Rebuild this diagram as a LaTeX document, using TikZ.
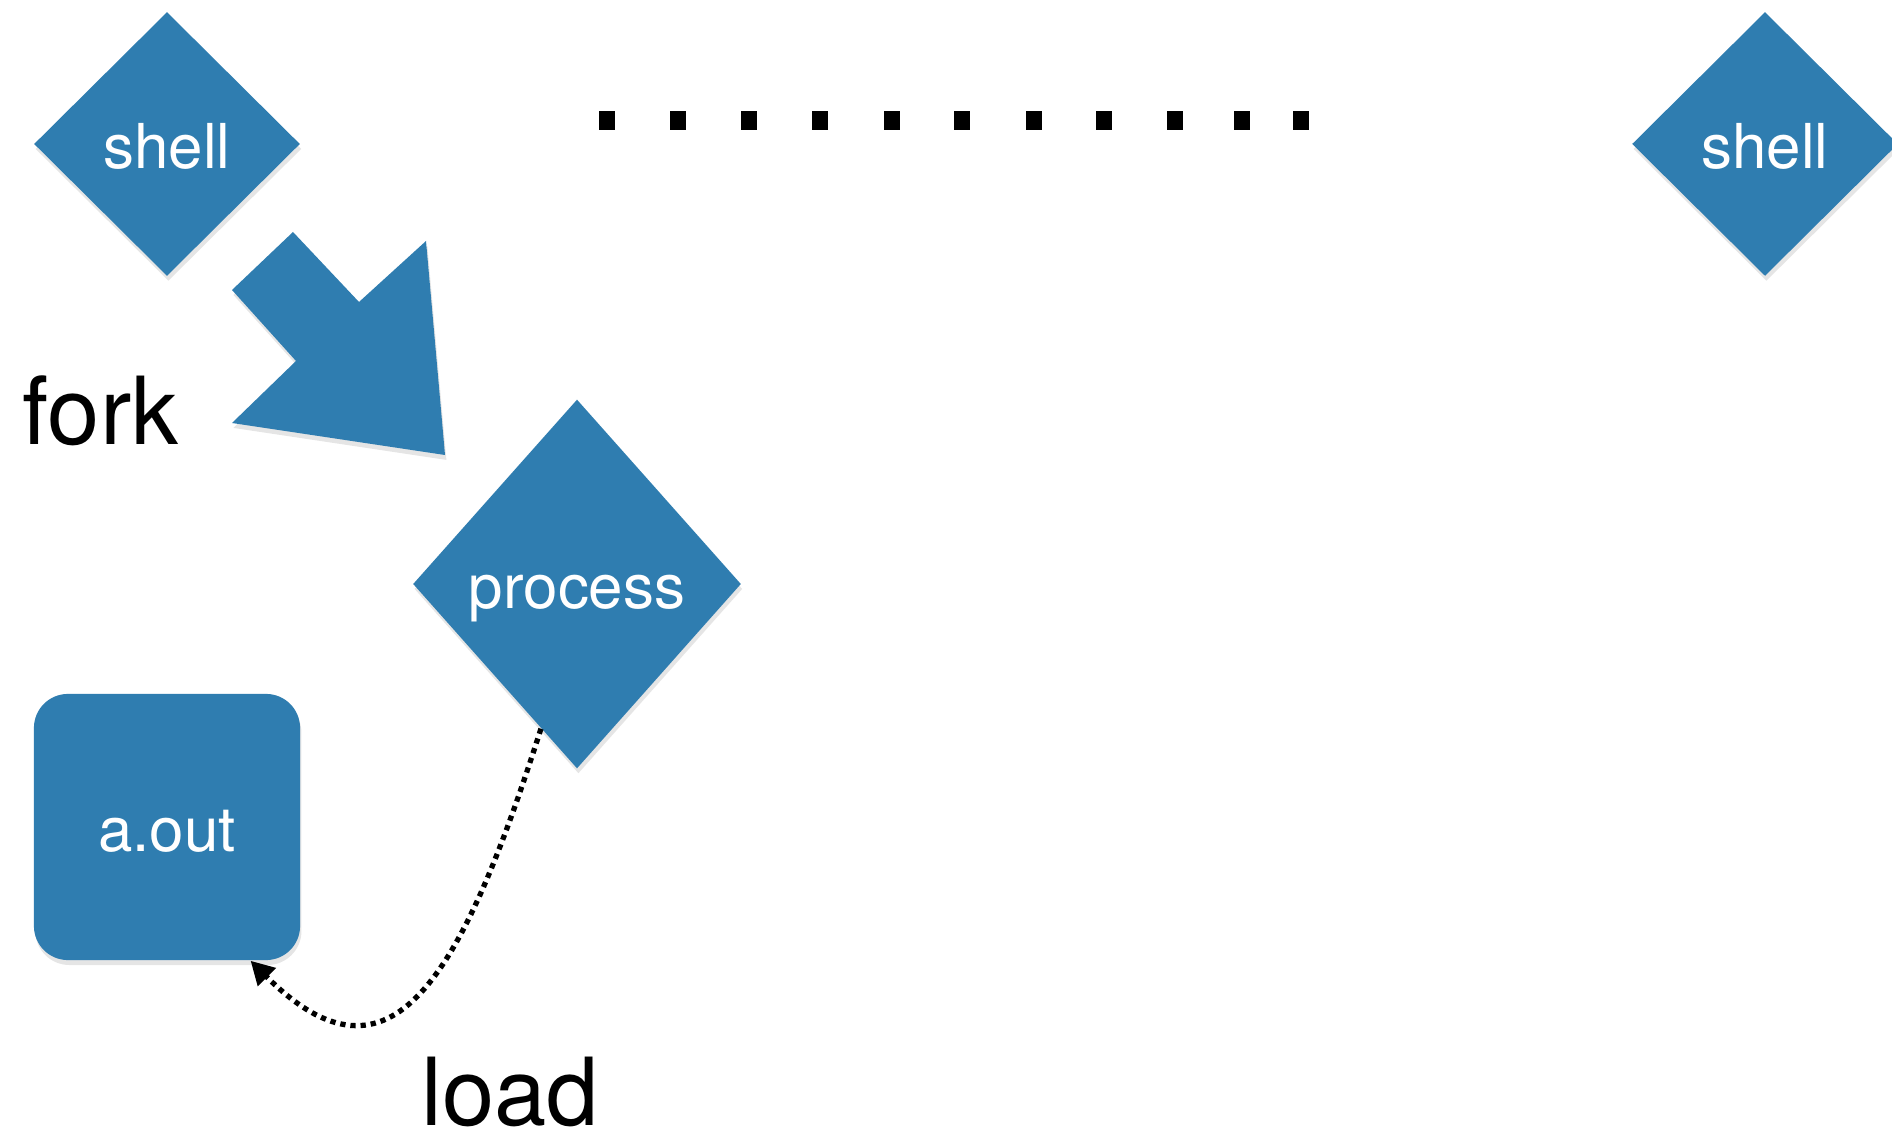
\documentclass[tikz,border=0pt]{standalone}
\usepackage{fontspec}
\setmainfont{TeX Gyre Heros}
\usetikzlibrary{positioning,arrows.meta,shapes.geometric,shadows}
\definecolor{keyblue}{RGB}{47,125,176}

\begin{document}
\begin{tikzpicture}[
    x=0.01cm, y=-0.01cm,
    soft/.style={drop shadow={opacity=0.2, shadow xshift=0.4pt, shadow yshift=-1.4pt}},
    diam/.style={diamond, fill=keyblue, soft, inner sep=0pt, text=white,
        font=\fontsize{17.6}{20}\selectfont, text height=16.7pt, text depth=3pt},
    tile/.style={rectangle, rounded corners=0.34cm, fill=keyblue, soft, inner sep=0pt, text=white,
        minimum width=2.66cm, minimum height=2.66cm,
        font=\fontsize{17.6}{20}\selectfont, text height=16.7pt, text depth=3pt},
    big/.style={font=\fontsize{26.7}{30}\selectfont, inner sep=0pt},
    loadarrow/.style={-{Triangle[length=6.6pt,width=7pt]}, line width=1.5pt, dash pattern=on 1.5pt off 1.4pt}
]
\useasboundingbox[fill=white] (0,0) rectangle (1892,1137);

% Shells
\node[diam, minimum width=2.66cm, minimum height=2.64cm] (shellA) at (167,144) {shell};
\node[diam, minimum width=2.66cm, minimum height=2.64cm] (shellB) at (1765,144) {shell};

% Row of dots between the shells
\foreach \dx in {607,678,749,820,892,962,1034,1104,1175,1242,1301}
    \fill (\dx-8,111) rectangle (\dx+8,130);

% Fork
\fill[keyblue, soft] (293,232) -- (232,290) -- (296,361) -- (232,423)
    -- (445,455) -- (426,241) -- (359,302) -- cycle;
\node[big, anchor=base west] (fork) at (22,445) {fork};

% Child process and the loaded program
\node[diam, minimum width=3.28cm, minimum height=3.69cm] (proc) at (577,584) {process};
\node[tile] (aout) at (167,827) {a.out};

% Load
\draw[loadarrow] (proc.256) .. controls +(-79,248) and +(141,141) .. (aout.-58);
\node[big, anchor=base west] (load) at (421,1125) {load};
\end{tikzpicture}
\end{document}
